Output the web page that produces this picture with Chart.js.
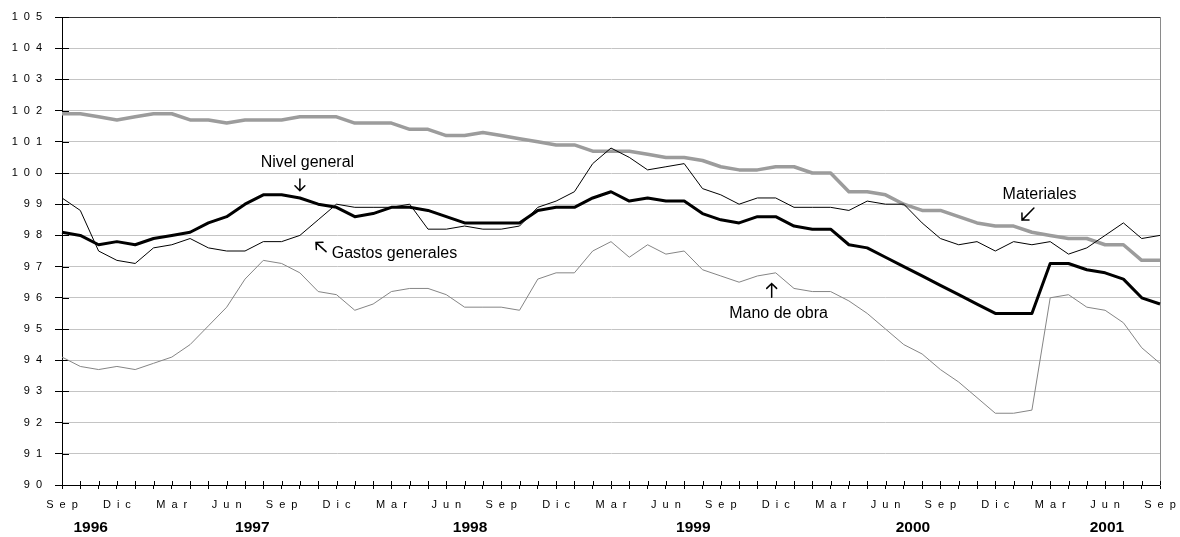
<!DOCTYPE html>
<html lang="es">
<head>
<meta charset="utf-8">
<title>Índices de costos de la construcción</title>
<script src="https://cdn.jsdelivr.net/npm/chart.js@4.4.1/dist/chart.umd.min.js"></script>
<style>
  html, body { margin: 0; padding: 0; background: #fff; }
  #wrap { width: 1180px; height: 537px; }
</style>
</head>
<body>
<div id="wrap"><canvas id="c" width="1180" height="537"></canvas></div>
<script>
// Monthly categories, Sep 1996 .. Sep 2001
const months = [
  'Sep','Oct','Nov','Dic',
  'Ene','Feb','Mar','Abr','May','Jun','Jul','Ago','Sep','Oct','Nov','Dic',
  'Ene','Feb','Mar','Abr','May','Jun','Jul','Ago','Sep','Oct','Nov','Dic',
  'Ene','Feb','Mar','Abr','May','Jun','Jul','Ago','Sep','Oct','Nov','Dic',
  'Ene','Feb','Mar','Abr','May','Jun','Jul','Ago','Sep','Oct','Nov','Dic',
  'Ene','Feb','Mar','Abr','May','Jun','Jul','Ago','Sep'
];

// Year captions under the month labels and where each sits on the month index scale
const years = ['1996', '1997', '1998', '1999', '2000', '2001'];
const yearCentres = [1.57, 10.4, 22.3, 34.5, 46.5, 57.1];

// Index series
const nivelGeneral = [
  98.1, 98.0, 97.7, 97.8, 97.7, 97.9, 98.0, 98.1, 98.4, 98.6,
  99.0, 99.3, 99.3, 99.2, 99.0, 98.9, 98.6, 98.7, 98.9, 98.9,
  98.8, 98.6, 98.4, 98.4, 98.4, 98.4, 98.8, 98.9, 98.9, 99.2,
  99.4, 99.1, 99.2, 99.1, 99.1, 98.7, 98.5, 98.4, 98.6, 98.6,
  98.3, 98.2, 98.2, 97.7, 97.6, 97.3, 97.0, 96.7, 96.4, 96.1,
  95.8, 95.5, 95.5, 95.5, 97.1, 97.1, 96.9, 96.8, 96.6, 96.0, 95.8
];
const materiales = [
  101.9, 101.9, 101.8, 101.7, 101.8, 101.9, 101.9, 101.7, 101.7, 101.6,
  101.7, 101.7, 101.7, 101.8, 101.8, 101.8, 101.6, 101.6, 101.6, 101.4,
  101.4, 101.2, 101.2, 101.3, 101.2, 101.1, 101.0, 100.9, 100.9, 100.7,
  100.7, 100.7, 100.6, 100.5, 100.5, 100.4, 100.2, 100.1, 100.1, 100.2,
  100.2, 100.0, 100.0, 99.4, 99.4, 99.3, 99.0, 98.8, 98.8, 98.6,
  98.4, 98.3, 98.3, 98.1, 98.0, 97.9, 97.9, 97.7, 97.7, 97.2, 97.2
];
const gastosGenerales = [
  99.2, 98.8, 97.5, 97.2, 97.1, 97.6, 97.7, 97.9, 97.6, 97.5,
  97.5, 97.8, 97.8, 98.0, 98.5, 99.0, 98.9, 98.9, 98.9, 99.0,
  98.2, 98.2, 98.3, 98.2, 98.2, 98.3, 98.9, 99.1, 99.4, 100.3,
  100.8, 100.5, 100.1, 100.2, 100.3, 99.5, 99.3, 99.0, 99.2, 99.2,
  98.9, 98.9, 98.9, 98.8, 99.1, 99.0, 99.0, 98.4, 97.9, 97.7,
  97.8, 97.5, 97.8, 97.7, 97.8, 97.4, 97.6, 98.0, 98.4, 97.9, 98.0
];
const manoDeObra = [
  94.1, 93.8, 93.7, 93.8, 93.7, 93.9, 94.1, 94.5, 95.1, 95.7,
  96.6, 97.2, 97.1, 96.8, 96.2, 96.1, 95.6, 95.8, 96.2, 96.3,
  96.3, 96.1, 95.7, 95.7, 95.7, 95.6, 96.6, 96.8, 96.8, 97.5,
  97.8, 97.3, 97.7, 97.4, 97.5, 96.9, 96.7, 96.5, 96.7, 96.8,
  96.3, 96.2, 96.2, 95.9, 95.5, 95.0, 94.5, 94.2, 93.7, 93.3,
  92.8, 92.3, 92.3, 92.4, 96.0, 96.1, 95.7, 95.6, 95.2, 94.4, 93.9
];

// Series captions with arrows, in (month index, index value) units
const notes = [
  { text: 'Nivel general',    at: [10.86, 100.20], from: [13.00, 99.81], to: [13.00, 99.43] },
  { text: 'Gastos generales', at: [14.74, 97.27],  from: [14.43, 97.48], to: [13.88, 97.77] },
  { text: 'Materiales',       at: [51.40, 99.16],  from: [53.11, 98.88], to: [52.46, 98.49] },
  { text: 'Mano de obra',     at: [36.46, 95.34],  from: [38.78, 96.02], to: [38.78, 96.46] }
];

const FAMILY = '"Liberation Sans", Arial, Helvetica, sans-serif';

const axisDecor = {
  id: 'axisDecor',
  beforeDraw(chart) {
    // spaced-out lettering for the month and value ticks
    chart.ctx.letterSpacing = '6px';
  },
  beforeDatasetsDraw(chart) {
    const { ctx, chartArea: a, scales: { x, y } } = chart;
    ctx.letterSpacing = '0px';
    // inner half of the crossing tick marks
    ctx.save();
    ctx.strokeStyle = '#000';
    ctx.lineWidth = 1;
    ctx.beginPath();
    y.ticks.forEach((t, i) => {
      const py = Math.round(y.getPixelForTick(i)) + 0.5;
      ctx.moveTo(a.left, py); ctx.lineTo(a.left + 7, py);
    });
    x.ticks.forEach((t, i) => {
      const px = Math.round(x.getPixelForTick(i)) + 0.5;
      ctx.moveTo(px, a.bottom); ctx.lineTo(px, a.bottom - 4);
    });
    ctx.stroke();
    ctx.restore();
  },
  afterDraw(chart) {
    const { ctx, scales: { x, y } } = chart;
    const px = v => x.getPixelForValue(v);
    const py = v => y.getPixelForValue(v);
    ctx.save();
    ctx.letterSpacing = '0px';
    ctx.fillStyle = '#000';
    ctx.strokeStyle = '#000';
    ctx.font = '16px ' + FAMILY;
    ctx.textAlign = 'left';
    ctx.textBaseline = 'alphabetic';
    ctx.lineWidth = 1.5;
    ctx.lineCap = 'round';
    notes.forEach(n => {
      ctx.fillText(n.text, px(n.at[0]), py(n.at[1]));
      const x0 = px(n.from[0]), y0 = py(n.from[1]);
      const x1 = px(n.to[0]), y1 = py(n.to[1]);
      const ang = Math.atan2(y1 - y0, x1 - x0);
      const h = 7, spread = Math.PI / 4;
      ctx.beginPath();
      ctx.moveTo(x0, y0); ctx.lineTo(x1, y1);
      ctx.moveTo(x1 - h * Math.cos(ang - spread), y1 - h * Math.sin(ang - spread));
      ctx.lineTo(x1, y1);
      ctx.lineTo(x1 - h * Math.cos(ang + spread), y1 - h * Math.sin(ang + spread));
      ctx.stroke();
    });
    ctx.restore();
  }
};

const line = (label, data, color, width, order) => ({
  label, data, order,
  borderColor: color,
  borderWidth: width,
  pointRadius: 0,
  tension: 0,
  fill: false,
  borderJoinStyle: width > 2 ? 'round' : 'miter'
});

new Chart(document.getElementById('c'), {
  type: 'line',
  data: {
    labels: months,
    datasets: [
      line('Nivel general', nivelGeneral, '#000000', 3, 1),
      line('Gastos generales', gastosGenerales, '#000000', 1, 0),
      line('Materiales', materiales, '#9c9c9c', 3.5, 3),
      line('Mano de obra', manoDeObra, '#858585', 1, 2)
    ]
  },
  options: {
    responsive: false,
    animation: false,
    events: [],
    layout: { padding: { left: 0, top: 17, right: 20, bottom: 0 } },
    plugins: { legend: { display: false }, tooltip: { enabled: false } },
    scales: {
      x: {
        type: 'category',
        offset: false,
        weight: 0,
        grid: { drawOnChartArea: false, drawTicks: true, tickLength: 4, tickColor: '#000' },
        border: { color: '#000', width: 1 },
        ticks: {
          autoSkip: false, maxRotation: 0, minRotation: 0,
          padding: 9, labelOffset: 3, color: '#000',
          font: { family: FAMILY, size: 11 },
          callback: (v, i) => (i % 3 === 0 ? months[i] : '')
        },
        afterFit: s => { s.height = 33; }
      },
      x2: {
        type: 'linear',
        position: 'bottom',
        min: 0, max: 60,
        weight: 1,
        grid: { display: false, drawTicks: false },
        border: { display: false },
        afterBuildTicks: s => { s.ticks = yearCentres.map(v => ({ value: v })); },
        ticks: {
          z: 1,
          autoSkip: false, maxRotation: 0, minRotation: 0,
          padding: 0, color: '#000',
          font: { family: FAMILY, size: 15.5, weight: 'bold' },
          callback: (v, i) => years[i]
        },
        afterFit: s => { s.height = 19; }
      },
      y: {
        min: 90, max: 105,
        grid: {
          color: c => (c.tick && c.tick.value === 105 ? '#333333' : '#c4c4c4'),
          lineWidth: 1,
          tickLength: 7,
          tickColor: '#000'
        },
        border: { color: '#000', width: 1 },
        ticks: {
          stepSize: 1, padding: 7, color: '#000',
          font: { family: FAMILY, size: 11 },
          callback: v => String(v)
        },
        afterFit: s => { s.width = 62; }
      },
      y2: {
        position: 'right',
        min: 90, max: 105,
        grid: { drawOnChartArea: false, drawTicks: false },
        border: { color: '#8a8a8a', width: 1 },
        ticks: { display: false },
        afterFit: s => { s.width = 0; }
      }
    }
  },
  plugins: [axisDecor]
});
</script>
</body>
</html>
